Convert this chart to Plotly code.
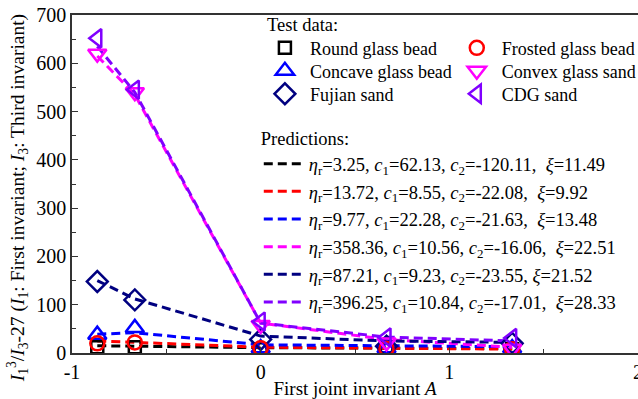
import plotly.graph_objects as go

# First joint invariant A at each loading state
A = [-0.866, -0.667, 0.0, 0.667, 1.333]

# Test data: I1^3/I3 - 27
names = ["Round glass bead", "Concave glass bead", "Fujian sand",
         "Frosted glass bead", "Convex glass sand", "CDG sand"]
test_round = [12, 12, 8, 8, 8]
test_concave = [38, 52, 10, 10, 10]
test_fujian = [148, 110, 28, 14, 20]
test_frosted = [20, 22, 10, 9, 8]
test_convex = [620, 540, 58, 22, 9]
test_cdg = [652, 545, 65, 32, 31]

# Model predictions
pred_round = [15, 14, 11, 10, 9]
pred_frosted = [25, 22, 12, 10, 8]
pred_concave = [39, 42, 17, 15, 13]
pred_convex = [615, 535, 62, 28, 12]
pred_fujian = [150, 112, 35, 25, 22]
pred_cdg = [635, 540, 62, 33, 25]

pred_labels = [
    "<i>η</i><sub>r</sub>=3.25, <i>c</i><sub>1</sub>=62.13, <i>c</i><sub>2</sub>=-120.11,  <i>ξ</i>=11.49",
    "<i>η</i><sub>r</sub>=13.72, <i>c</i><sub>1</sub>=8.55, <i>c</i><sub>2</sub>=-22.08,  <i>ξ</i>=9.92",
    "<i>η</i><sub>r</sub>=9.77, <i>c</i><sub>1</sub>=22.28, <i>c</i><sub>2</sub>=-21.63,  <i>ξ</i>=13.48",
    "<i>η</i><sub>r</sub>=358.36, <i>c</i><sub>1</sub>=10.56, <i>c</i><sub>2</sub>=-16.06,  <i>ξ</i>=22.51",
    "<i>η</i><sub>r</sub>=87.21, <i>c</i><sub>1</sub>=9.23, <i>c</i><sub>2</sub>=-23.55, <i>ξ</i>=21.52",
    "<i>η</i><sub>r</sub>=396.25, <i>c</i><sub>1</sub>=10.84, <i>c</i><sub>2</sub>=-17.01,  <i>ξ</i>=28.33",
]

BLACK, RED, BLUE = "#000000", "#FF0000", "#0000FF"
MAGENTA, NAVY, VIOLET = "#FF00FF", "#000080", "#8000FF"

FONT = "'Liberation Serif', 'Times New Roman', serif"

fig = go.Figure()

# Prediction curves (dashed)
preds = [(pred_round, BLACK), (pred_frosted, RED), (pred_concave, BLUE),
         (pred_convex, MAGENTA), (pred_fujian, NAVY), (pred_cdg, VIOLET)]
for i, ((vals, col), lab) in enumerate(zip(preds, pred_labels)):
    fig.add_trace(go.Scatter(
        x=A, y=vals, mode="lines", name=lab, legend="legend",
        legendgroup=f"p{i}",
        line=dict(color=col, width=3, dash="9px,5px"),
    ))

# Test data markers, one legend box per entry (two columns of three)
tests = [
    (test_round, BLACK, "square-open", 12),
    (test_concave, BLUE, "triangle-up-open", 16),
    (test_fujian, NAVY, "diamond-open", 16),
    (test_frosted, RED, "circle-open", 14),
    (test_convex, MAGENTA, "triangle-down-open", 16),
    (test_cdg, VIOLET, "triangle-left-open", 16),
]
for k, ((vals, col, sym, sz), nm) in enumerate(zip(tests, names)):
    fig.add_trace(go.Scatter(
        x=A, y=vals, mode="markers", name=nm, legend=f"legend{k + 2}",
        marker=dict(symbol=sym, size=sz, color=col, line=dict(color=col, width=2.5)),
    ))

legend_common = dict(bgcolor="rgba(0,0,0,0)", borderwidth=0,
                     font=dict(family=FONT, size=18, color="#000"),
                     xanchor="left")

# plot area spans 15..353 px vertically, 72..638 px horizontally
row_y = [0.902, 0.834, 0.766]
test_legends = {}
for k in range(6):
    col_x, iw = (0.332, 40) if k < 3 else (0.671, 40)
    test_legends[f"legend{k + 2}"] = dict(**legend_common, x=col_x, y=row_y[k % 3],
                                          yanchor="middle", itemwidth=iw)

fig.update_layout(
    width=638, height=399,
    margin=dict(l=72, r=0, t=15, b=46, autoexpand=False),
    paper_bgcolor="white", plot_bgcolor="white",
    font=dict(family=FONT, size=18, color="#000"),
    legend=dict(**{**legend_common, "font": dict(family=FONT, size=18.5, color="#000")},
                x=0.33, y=0.686, yanchor="top", itemwidth=40, tracegroupgap=0.6,
                title=dict(text="Predictions:", font=dict(family=FONT, size=18.5))),
    **test_legends,
    annotations=[
        dict(text="Test data:", xref="paper", yref="paper", x=0.341, y=0.970,
             xanchor="left", yanchor="middle", showarrow=False,
             font=dict(family=FONT, size=18.5)),
        dict(text="<i>I</i><sub>1</sub><sup>3</sup>/<i>I</i><sub>3</sub>-27 (<i>I</i><sub>1</sub>: First invariant; <i>I</i><sub>3</sub>: Third invariant)",
             xref="paper", yref="paper", x=-0.097, y=0.458, textangle=-90,
             xanchor="center", yanchor="middle", showarrow=False,
             font=dict(family=FONT, size=19.5)),
    ],
    xaxis=dict(
        range=[-1, 2], tickvals=[-1, 0, 1, 2], ticktext=["-1", "0", "1", "2"],
        ticks="inside", ticklen=6, tickwidth=1.2, tickcolor="#333",
        minor=dict(tickvals=[-0.5, 0.5, 1.5], ticks="inside", ticklen=4, tickcolor="#333"),
        showline=True, linecolor="#333", linewidth=1.5, mirror=True,
        showgrid=False, zeroline=False, ticklabeloverflow="allow",
        tickfont=dict(family=FONT, size=20),
        title=dict(text="First joint invariant <i>A</i>", font=dict(family=FONT, size=19), standoff=0),
    ),
    yaxis=dict(
        range=[0, 700], tickvals=list(range(0, 701, 100)),
        ticks="inside", ticklen=6, tickwidth=1.2, tickcolor="#333",
        minor=dict(tickvals=list(range(50, 700, 100)), ticks="inside", ticklen=4, tickcolor="#333"),
        showline=True, linecolor="#333", linewidth=1.5,
        showgrid=False, zeroline=False,
        tickfont=dict(family=FONT, size=20),
    ),
)

fig.write_html("out.html")
